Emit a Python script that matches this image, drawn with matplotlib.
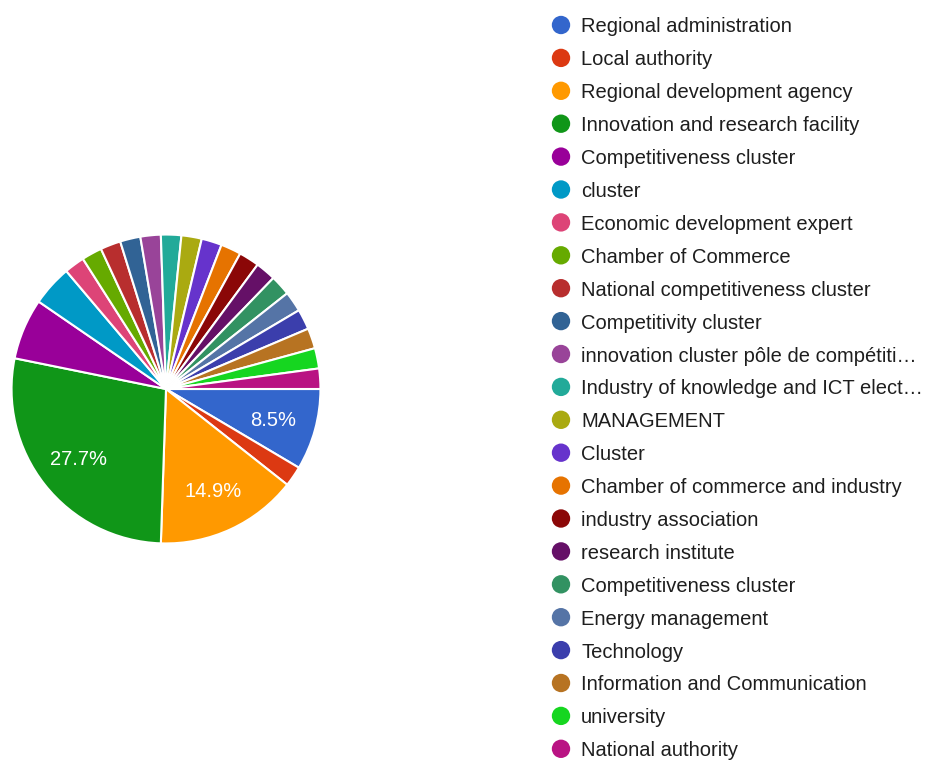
import matplotlib
matplotlib.use("Agg")
import matplotlib.pyplot as plt

plt.rcParams['font.family'] = ['Liberation Sans', 'DejaVu Sans']

categories = [
    "Regional administration",
    "Local authority",
    "Regional development agency",
    "Innovation and research facility",
    "Competitiveness cluster",
    "cluster",
    "Economic development expert",
    "Chamber of Commerce",
    "National competitiveness cluster",
    "Competitivity cluster",
    "innovation cluster pôle de compétiti…",
    "Industry of knowledge and ICT elect…",
    "MANAGEMENT",
    "Cluster",
    "Chamber of commerce and industry",
    "industry association",
    "research institute",
    "Competitiveness cluster",
    "Energy management",
    "Technology",
    "Information and Communication",
    "university",
    "National authority",
]
counts = [4, 1, 7, 13, 3, 2, 1, 1, 1, 1, 1, 1, 1, 1, 1, 1, 1, 1, 1, 1, 1, 1, 1]
colors = [
    "#3366cc", "#dc3912", "#ff9900", "#109618", "#990099", "#0099c6",
    "#dd4477", "#66aa00", "#b82e2e", "#316395", "#994499", "#22aa99",
    "#aaaa11", "#6633cc", "#e67300", "#8b0707", "#651067", "#329262",
    "#5574a6", "#3b3eac", "#b77322", "#16d620", "#b91383",
]

W, H = 935, 761
fig = plt.figure(figsize=(W / 100, H / 100), dpi=100)

# pie: centre (166, 389) px, radius 156 px
cx, cy, r = 166, 389, 156
ax = fig.add_axes([(cx - r) / W, 1 - (cy + r) / H, 2 * r / W, 2 * r / H])


def pct_label(p):
    return f"{p:.1f}%" if p >= 8 else ""


wedges, texts, autotexts = ax.pie(
    counts, colors=colors, startangle=0, counterclock=False,
    autopct=pct_label, pctdistance=0.72,
    wedgeprops=dict(edgecolor="white", linewidth=1.5),
    textprops=dict(color="white", fontsize=14.5),
)
for t in autotexts:
    t.set_va("center_baseline")
ax.set_xlim(-1.01, 1.01)
ax.set_ylim(-1.01, 1.01)
ax.set_aspect("equal")
ax.axis("off")

# legend drawn in pixel coordinates
lax = fig.add_axes([0, 0, 1, 1])
lax.set_xlim(0, W)
lax.set_ylim(H, 0)
lax.axis("off")
row0, step = 25, 32.9
for i, (name, col) in enumerate(zip(categories, colors)):
    y = row0 + step * i
    lax.scatter([561], [y], s=175, color=col, edgecolors="none")
    lax.text(581, y, name, fontsize=14.5, color="#1e1e1e",
             va="center_baseline", ha="left")

fig.savefig("out.png", dpi=100)
